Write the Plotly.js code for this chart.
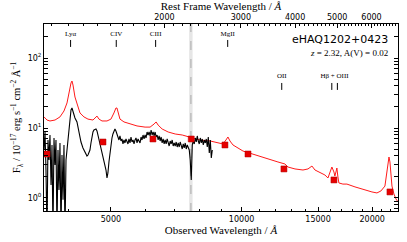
<!DOCTYPE html>
<html><head><meta charset="utf-8">
<script src="https://cdn.plot.ly/plotly-3.0.1.min.js"></script>
<style>html,body{margin:0;padding:0;background:#fff}#chart{width:407px;height:242px}</style>
</head><body><div id="chart"></div>
<script>
const objectName = 'eHAQ1202+0423';
const redshift = 2.32;
const extinctionAV = 0.02;

// observed spectrum (Angstrom, 1e-17 erg/s/cm2/A)
const specWave = [3505,3524,3542,3561,3580,3599,3618,3638,3657,3676,3696,3716,3735,3755,3775,3795,3815,3836,3856,3877,3897,3918,3939,3960,3981,4002,4023,4045,4066,4088,4110,4131,
  4175,4220,4265,4310,4356,4403,
  4426,4450,4473,4497,4521,4545,4569,
  4618,4643,4667,4692,4717,4742,4768,4793,4819,4844,4870,4896,4920,4947,4973,5000,5027,5053,5080,5107,5134,5162,5189,
  5217,5245,5273,5301,5329,5358,5386,5415,5444,5473,5502,5532,5561,5591,5621,5651,5681,5711,5742,5773,5803,5834,5866,5897,5928,5960,5992,6024,6056,6089,
  6121,6154,6187,6220,6253,6286,6320,6354,6388,6422,6456,6491,6525,6560,6595,6630,6666,6701,6737,6773,6809,6846,6882,6919,6956,6993,7030,7068,7106,7144,
  7182,7220,7259,7298,7337,7376,7415,7455,7495,7535,7575,7615,7656,7697,7737,7779,7820,7862,7904,7946,7989,8031,8074,8117,8160,8204,8248,8292,8336,8380,
  8425,8470,8515,8560];
const specFlux = [4.85,8.77,2.51,0.3,6.74,3.49,7.94,1.53,5.72,0.3,7.20,2.96,6.74,0.3,4.85,1.30,6.11,0.3,4.11,0.94,5.72,0.3,3.49,4.85,6.74,9.36,13.89,18.07,19.3,16.93,15.34,13.89,
  12.18,8.77,6.31,5.18,4.54,3.98,
  4.11,4.54,4.85,6.11,7.69,8.77,9.36,
  9.68,9.06,7.94,6.74,5.91,5.35,4.54,3.85,3.49,3.16,2.51,1.93,2.28,3.27,4.39,5.72,7.20,8.21,9.06,9.68,9.06,8.21,7.44,
  6.74,7.69,6.52,6.97,5.91,6.74,6.11,6.97,6.11,5.91,6.97,6.11,7.44,6.31,6.74,5.91,6.74,7.20,6.11,6.97,6.52,6.11,7.44,6.74,7.94,6.97,7.94,7.20,8.77,7.94,
  8.77,7.69,9.36,7.94,8.77,7.69,8.77,7.44,7.94,6.74,7.69,6.52,7.44,6.11,6.97,5.91,6.74,5.91,6.97,6.11,5.53,6.52,5.91,6.74,5.53,6.11,5.53,6.31,5.35,6.11,
  5.35,6.31,5.53,5.01,5.91,5.18,6.11,5.01,5.72,5.01,4.85,3.49,1.81,5.72,6.52,5.91,7.20,6.31,7.69,6.52,5.91,7.20,6.11,6.97,5.72,6.74,6.11,6.97,5.35,7.44,
  4.39,6.74,3.73,4.85];

// reddened quasar model
const modelWave = [3505,3561,3618,3716,3815,3897,3960,4002,4045,4066,4088,4131,4175,4242,4333,4426,4545,4618,4643,4692,4768,4896,5000,5080,5134,5162,5189,5245,5358,5532,5741,5992,6154,6286,6354,6422,6560,6773,7030,7298,7615,8019,8470,8822,9059,9204,9301,9402,9553,10072,10734,11440,12127,12585,12790,13275,13851,14223,14526,14760,15158,15562,15812,15981,16145,16323,16403,16497,16579,16660,16755,17118,17488,18250,18938,19449,19970,20506,20945,21394,21622,21737,21857,21970,22087,22207,22442,22682,22928];
const modelFlux = [14.4,13.0,12.6,13.0,14.4,17.5,22.8,32.7,44.0,46.9,41.1,27.7,22.0,16.4,14.4,13.4,13.0,14.4,14.8,13.4,12.6,12.6,13.4,16.4,19.3,19.3,16.9,13.4,12.2,11.4,10.7,10.3,10.3,11.4,12.2,11.0,9.68,8.77,8.21,7.94,7.44,6.74,6.52,6.11,5.91,6.74,7.44,6.52,5.72,4.69,4.11,3.61,3.27,3.06,2.77,2.60,2.51,2.60,2.86,2.51,2.28,2.13,1.93,2.35,2.77,2.35,2.06,2.35,2.68,2.06,1.64,1.58,1.58,1.44,1.34,1.26,1.22,1.18,1.26,1.48,2.35,3.49,3.85,3.27,2.06,1.48,1.14,0.97,0.88];

// photometry
const photWave = [3561,4793,6248,7656,9155,10345,12520,16323,21970];
const photFlux = [4.25,6.31,6.97,6.97,5.72,4.25,2.60,1.81,1.22];

// emission lines (rest frame)
const lineTickRest = [1215.7,1549,1909,2798,3727,4861,5007];
const lineTickGroup = [0,0,0,0,1,1,1];
const lineLabelText = ['Lyα','CIV','CIII','MgII','OII','Hβ + OIII'];
const lineLabelRest = [1215.7,1549,1909,2798,3727,4932];
const lineLabelGroup = [0,0,0,0,1,1];

// telluric band (observed)
const tellLo = 7570, tellHi = 7710;

// axis ticks
const obsTicks = [5000,10000,15000,20000];
const obsMinor = [4000,6000,7000,8000,9000,11000,12000,13000,14000,16000,17000,18000,19000,21000,22000];
const restTicks = [2000,3000,4000,5000,6000];
const restMinor = [];
for (let w = 1100; w <= 6900; w += 100) if (restTicks.indexOf(w) < 0) restMinor.push(w);
const fluxTicks = [1,10,100];
const fluxTickText = ['10<sup>0</sup>','10<sup>1</sup>','10<sup>2</sup>'];
const fluxMinor = [0.7,0.8,0.9,2,3,4,5,6,7,8,9,20,30,40,50,60,70,80,90,200,300];

const obsRange = [3505, 22930];
const yRangeLog = [-0.186, 2.486];

// label geometry (styling)
const groupLabelY = [220, 55];
const groupTickY = [[181,144],[44,35]];

const tickX = [], tickY = [];
lineTickRest.forEach((w,i)=>{ const g = groupTickY[lineTickGroup[i]]; tickX.push(w,w,null); tickY.push(g[0],g[1],null); });

const traces = [
  {x:[tellLo,tellLo,tellHi,tellHi], y:[0.01,1e4,1e4,0.01], type:'scatter', mode:'lines', fill:'toself', fillcolor:'#e6e6e6', line:{width:0}, hoverinfo:'skip'},
  {x:[(tellLo+tellHi)/2,(tellLo+tellHi)/2], y:[0.01,1e4], type:'scatter', mode:'lines', line:{color:'#bdbdbd', width:1.5, dash:'dash'}, hoverinfo:'skip'},
  {x:modelWave, y:modelFlux, type:'scatter', mode:'lines', line:{color:'#ff1a1a', width:1}},
  {x:specWave, y:specFlux, type:'scatter', mode:'lines', line:{color:'black', width:1.1}},
  {x:photWave, y:photFlux, type:'scatter', mode:'markers', marker:{symbol:'square', size:6, color:'#e60000', line:{color:'#b00000', width:0.5}}},
  {x:tickX, y:tickY, xaxis:'x2', type:'scatter', mode:'lines', line:{color:'black', width:1}},
  {x:lineLabelRest, y:lineLabelGroup.map(g=>groupLabelY[g]), xaxis:'x2', type:'scatter', mode:'text', text:lineLabelText, textposition:'middle center', textfont:{family:'Liberation Serif', size:7, color:'black'}}
];

const axisCommon = {ticks:'inside', tickcolor:'black', ticklen:4, tickwidth:1, linecolor:'black', linewidth:1, showgrid:false, zeroline:false, tickfont:{family:'DejaVu Sans', size:8, color:'black'}};

const layout = {
  width:407, height:242,
  margin:{l:44, r:9, t:24, b:31, pad:0},
  paper_bgcolor:'white', plot_bgcolor:'white',
  showlegend:false,
  font:{family:'DejaVu Sans', size:8, color:'black'},
  xaxis:Object.assign({}, axisCommon, {
    type:'log', range:obsRange.map(Math.log10), tickmode:'array', tickvals:obsTicks, ticktext:obsTicks.map(String), mirror:true,
    minor:{tickmode:'array', tickvals:obsMinor, ticks:'inside', ticklen:2, tickcolor:'black'},
    title:{text:'Observed Wavelength / <i>Å</i>', font:{family:'Liberation Serif', size:11, color:'black'}, standoff:3}
  }),
  xaxis2:Object.assign({}, axisCommon, {
    type:'log', overlaying:'x', side:'top', anchor:'y', range:obsRange.map(w=>Math.log10(w/(1+redshift))), tickmode:'array', tickvals:restTicks, ticktext:restTicks.map(String),
    minor:{tickmode:'array', tickvals:restMinor, ticks:'inside', ticklen:2, tickcolor:'black'},
    title:{text:'Rest Frame Wavelength / <i>Å</i>', font:{family:'Liberation Serif', size:11, color:'black'}, standoff:2}
  }),
  yaxis:Object.assign({}, axisCommon, {
    type:'log', range:yRangeLog, tickmode:'array', tickvals:fluxTicks, ticktext:fluxTickText, mirror:'allticks',
    minor:{tickmode:'array', tickvals:fluxMinor, ticks:'inside', ticklen:2, tickcolor:'black'},
    title:{text:'F<sub>λ</sub> / 10<sup>−17</sup> erg s<sup>−1</sup> cm<sup>−2</sup> Å<sup>−1</sup>', font:{family:'Liberation Serif', size:10.5, color:'black'}, standoff:4}
  }),
  annotations:[
    {xref:'paper', yref:'paper', x:0.977, y:0.915, xanchor:'right', yanchor:'middle', showarrow:false, text:objectName, font:{family:'DejaVu Sans', size:11, color:'black'}},
    {xref:'paper', yref:'paper', x:0.977, y:0.845, xanchor:'right', yanchor:'middle', showarrow:false, text:'<i>z</i> = '+redshift.toFixed(2)+', A(V) = '+extinctionAV.toFixed(2), font:{family:'Liberation Serif', size:9, color:'black'}}
  ]
};

Plotly.newPlot('chart', traces, layout, {staticPlot:true, displayModeBar:false});
</script>
</body></html>
